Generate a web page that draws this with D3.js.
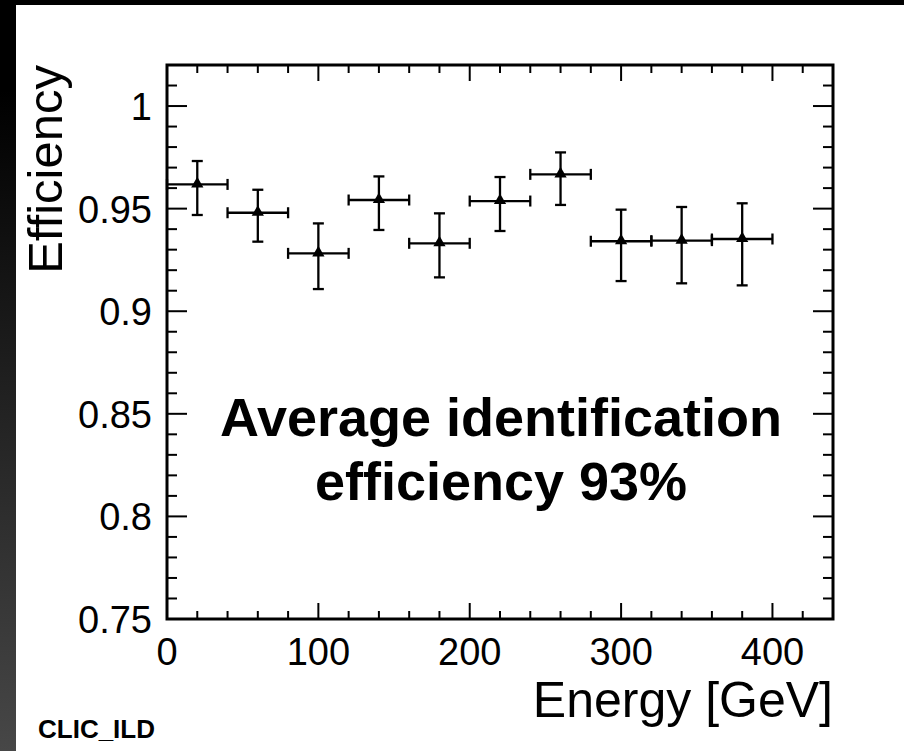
<!DOCTYPE html>
<html lang="en">
<head>
    <meta charset="UTF-8">
    <title>Efficiency vs Energy</title>
    <style>
        body { margin: 0; background: #fff; }
        svg { display: block; }
        text { font-family: "Liberation Sans", Arial, Helvetica, sans-serif; fill: #000; }
    </style>
</head>
<body>
<script src="https://d3js.org/d3.v7.min.js"></script>
<script>
    const width = 904
    const height = 751

    // bin centres, half widths and efficiency with its lower / upper bounds
    const energy = [20, 60, 100, 140, 180, 220, 260, 300, 340, 380]
    const energyErr = [20, 20, 20, 20, 20, 20, 20, 20, 20, 20]
    const eff = [0.9618, 0.9480, 0.9282, 0.9542, 0.9331, 0.9537, 0.9667, 0.9341, 0.9344, 0.9352]
    const effHigh = [0.9732, 0.9592, 0.9428, 0.9657, 0.9477, 0.9654, 0.9774, 0.9495, 0.9508, 0.9526]
    const effLow = [0.9469, 0.9339, 0.9108, 0.9396, 0.9165, 0.9391, 0.9518, 0.9147, 0.9136, 0.9126]

    const xTicks = [0, 100, 200, 300, 400]
    const yTicks = [0.75, 0.8, 0.85, 0.9, 0.95, 1]
    const noteLines = ['Average identification', 'efficiency 93%']

    const margin = { left: 167, right: 71, top: 65, bottom: 132 }
    const x = d3.scaleLinear().domain([0, 440]).range([margin.left, width - margin.right])
    const y = d3.scaleLinear().domain([0.75, 1.02]).range([height - margin.bottom, margin.top])

    const svg = d3.select('body').append('svg')
        .attr('width', width)
        .attr('height', height)

    drawBackground()
    drawFrame()
    drawPoints()
    drawTexts()

    function drawBackground() {
        const grad = svg.append('defs').append('linearGradient')
            .attr('id', 'side')
            .attr('x1', 0).attr('y1', 0).attr('x2', 0).attr('y2', 1)
        grad.append('stop').attr('offset', '0%').attr('stop-color', '#000')
        grad.append('stop').attr('offset', '12%').attr('stop-color', '#000')
        grad.append('stop').attr('offset', '100%').attr('stop-color', '#474747')

        svg.append('rect').attr('width', width).attr('height', height).attr('fill', '#fff')
        svg.append('rect').attr('width', width).attr('height', 5).attr('fill', '#000')
        svg.append('rect').attr('width', 16).attr('height', height).attr('fill', 'url(#side)')
    }

    function drawFrame() {
        const [x0, x1] = x.range()
        const [y0, y1] = y.range()
        const g = svg.append('g').attr('stroke', '#000').attr('stroke-width', 2)

        // x ticks: major every 100, minor every 20, bottom and top
        d3.range(0, 441, 20).forEach(v => {
            const len = v % 100 === 0 ? 16 : 8
            g.append('line').attr('x1', x(v)).attr('x2', x(v)).attr('y1', y0).attr('y2', y0 - len)
            g.append('line').attr('x1', x(v)).attr('x2', x(v)).attr('y1', y1).attr('y2', y1 + len)
        })
        // y ticks: major every 0.05, minor every 0.01, left and right
        d3.range(75, 103, 1).forEach(k => {
            const v = k / 100
            const len = k % 5 === 0 ? 20 : 10
            g.append('line').attr('y1', y(v)).attr('y2', y(v)).attr('x1', x0).attr('x2', x0 + len)
            g.append('line').attr('y1', y(v)).attr('y2', y(v)).attr('x1', x1).attr('x2', x1 - len)
        })

        svg.append('rect')
            .attr('x', x0).attr('y', y1)
            .attr('width', x1 - x0).attr('height', y0 - y1)
            .attr('fill', 'none').attr('stroke', '#000').attr('stroke-width', 3)

        svg.append('g').selectAll('text').data(xTicks).enter().append('text')
            .attr('x', d => x(d)).attr('y', y0 + 46)
            .attr('text-anchor', 'middle')
            .attr('font-size', 38)
            .text(d => d)

        svg.append('g').selectAll('text').data(yTicks).enter().append('text')
            .attr('x', x0 - 15).attr('y', d => y(d) + 14)
            .attr('text-anchor', 'end')
            .attr('font-size', 38)
            .text(d => d)
    }

    function drawPoints() {
        const cap = 5.5
        const g = svg.append('g').attr('stroke', '#000').attr('stroke-width', 2.3)
        energy.forEach((e, i) => {
            const cx = x(e), cy = y(eff[i])
            const xl = x(e - energyErr[i]), xr = x(e + energyErr[i])
            const yt = y(effHigh[i]), yb = y(effLow[i])
            g.append('line').attr('x1', xl).attr('x2', xr).attr('y1', cy).attr('y2', cy)
            g.append('line').attr('x1', cx).attr('x2', cx).attr('y1', yt).attr('y2', yb)
            g.append('line').attr('x1', xl).attr('x2', xl).attr('y1', cy - cap).attr('y2', cy + cap)
            g.append('line').attr('x1', xr).attr('x2', xr).attr('y1', cy - cap).attr('y2', cy + cap)
            g.append('line').attr('x1', cx - cap).attr('x2', cx + cap).attr('y1', yt).attr('y2', yt)
            g.append('line').attr('x1', cx - cap).attr('x2', cx + cap).attr('y1', yb).attr('y2', yb)
        })

        svg.append('g').selectAll('path').data(energy).enter().append('path')
            .attr('d', d3.symbol().type(d3.symbolTriangle).size(65))
            .attr('transform', (d, i) => `translate(${x(d)},${y(eff[i]) - 0.5})`)
            .attr('fill', '#000')
    }

    function drawTexts() {
        svg.append('text')
            .attr('transform', `translate(62, ${margin.top}) rotate(-90)`)
            .attr('text-anchor', 'end')
            .attr('font-size', 49)
            .text('Efficiency')

        svg.append('text')
            .attr('x', x.range()[1]).attr('y', 717)
            .attr('text-anchor', 'end')
            .attr('font-size', 50)
            .text('Energy [GeV]')

        svg.append('g').selectAll('text').data(noteLines).enter().append('text')
            .attr('x', 501).attr('y', (d, i) => 436 + i * 64)
            .attr('text-anchor', 'middle')
            .attr('font-size', 54)
            .attr('font-weight', 'bold')
            .text(d => d)

        svg.append('text')
            .attr('x', 38).attr('y', 738)
            .attr('font-size', 26)
            .attr('font-weight', 'bold')
            .text('CLIC_ILD')
    }
</script>
</body>
</html>
